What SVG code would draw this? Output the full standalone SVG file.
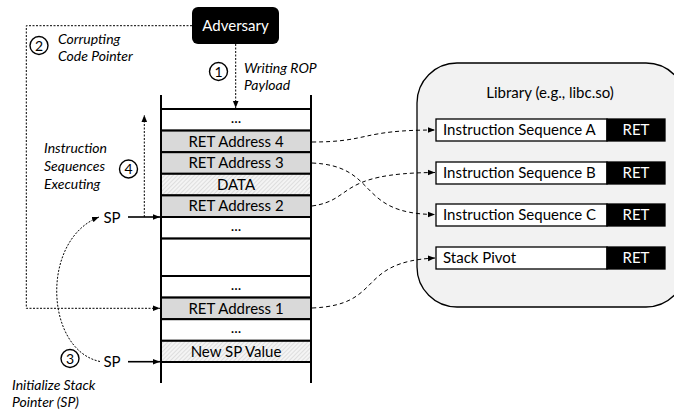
<svg xmlns="http://www.w3.org/2000/svg" width="674" height="411" viewBox="0 0 674 411">
  <style>
    text { font-family: Lato, "Open Sans", "Liberation Sans", sans-serif; fill: #000; }
    .lbl { font-size: 15px; text-anchor: middle; }
    .seq { font-size: 15px; }
    .it { font-size: 14px; font-style: italic; }
    .num { font-size: 14px; text-anchor: middle; }
    .wt { fill: #fff; }
    .cell { stroke: #000; stroke-width: 2; }
    .gray { fill: #d9d9d9; }
    .white { fill: #fff; }
    .hatch { fill: url(#hatch); }
    .box { stroke: #000; stroke-width: 1.3; }
    .dot { fill: none; stroke: #000; stroke-width: 1; stroke-dasharray: 2 1.5; }
    .dash { fill: none; stroke: #000; stroke-width: 1; stroke-dasharray: 4 3; }
    .solid { fill: none; stroke: #000; stroke-width: 1.6; }
    .circ { fill: #fff; stroke: #000; stroke-width: 1.4; }
  </style>
  <defs>
    <pattern id="hatch" width="3" height="3" patternUnits="userSpaceOnUse" patternTransform="rotate(45)">
      <rect width="3" height="3" fill="#f4f4f4"/>
      <line x1="0" y1="0" x2="0" y2="3" stroke="#c8c8c8" stroke-width="1"/>
    </pattern>
    <marker id="arr" viewBox="0 0 10 10" refX="10" refY="5" markerWidth="7" markerHeight="7" markerUnits="userSpaceOnUse" orient="auto">
      <path d="M0,1 L10,5 L0,9 z" fill="#000"/>
    </marker>
  </defs>

  <!-- Adversary -->
  <g id="adversary">
    <rect x="192" y="7" width="87" height="37" rx="6" fill="#000"/>
    <text class="lbl wt" x="235.5" y="31">Adversary</text>
  </g>

  <!-- Stack -->
  <g id="stack">
    <rect class="cell white" x="161" y="109" width="150" height="21.6"/>
    <text class="lbl" x="236" y="123">...</text>
    <rect class="cell gray" x="161" y="130.6" width="150" height="21.6"/>
    <text class="lbl" x="236" y="146.5">RET Address 4</text>
    <rect class="cell gray" x="161" y="152.2" width="150" height="21.6"/>
    <text class="lbl" x="236" y="168">RET Address 3</text>
    <rect class="cell hatch" x="161" y="173.8" width="150" height="21.6"/>
    <text class="lbl" x="236" y="189.5">DATA</text>
    <rect class="cell gray" x="161" y="195.4" width="150" height="21.6"/>
    <text class="lbl" x="236" y="211">RET Address 2</text>
    <rect class="cell white" x="161" y="217" width="150" height="21.6"/>
    <text class="lbl" x="236" y="231">...</text>
    <rect class="cell white" x="161" y="238.6" width="150" height="37.4"/>
    <rect class="cell white" x="161" y="276" width="150" height="21.6"/>
    <text class="lbl" x="236" y="290">...</text>
    <rect class="cell gray" x="161" y="297.6" width="150" height="21.6"/>
    <text class="lbl" x="236" y="313.5">RET Address 1</text>
    <rect class="cell white" x="161" y="319.2" width="150" height="21.6"/>
    <text class="lbl" x="236" y="333">...</text>
    <rect class="cell hatch" x="161" y="340.8" width="150" height="21.2"/>
    <text class="lbl" x="236" y="356.5">New SP Value</text>
    <line class="cell" x1="161" y1="95" x2="161" y2="383"/>
    <line class="cell" x1="311" y1="95" x2="311" y2="383"/>
  </g>

  <!-- Library -->
  <g id="library">
    <rect x="417" y="63" width="269" height="244" rx="40" fill="#f2f2f2" stroke="#000" stroke-width="1.3"/>
    <text class="lbl" x="550" y="98">Library (e.g., libc.so)</text>
  </g>
  <g id="seq-a">
    <rect class="box" x="436" y="119" width="171" height="22" fill="#fff"/>
    <rect class="box" x="607" y="119" width="58" height="22" fill="#000"/>
    <text class="seq" x="443" y="135">Instruction Sequence A</text>
    <text class="lbl wt" x="636" y="135">RET</text>
  </g>
  <g id="seq-b">
    <rect class="box" x="436" y="162" width="171" height="22" fill="#fff"/>
    <rect class="box" x="607" y="162" width="58" height="22" fill="#000"/>
    <text class="seq" x="443" y="178">Instruction Sequence B</text>
    <text class="lbl wt" x="636" y="178">RET</text>
  </g>
  <g id="seq-c">
    <rect class="box" x="436" y="204" width="171" height="22" fill="#fff"/>
    <rect class="box" x="607" y="204" width="58" height="22" fill="#000"/>
    <text class="seq" x="443" y="220">Instruction Sequence C</text>
    <text class="lbl wt" x="636" y="220">RET</text>
  </g>
  <g id="stack-pivot">
    <rect class="box" x="436" y="247" width="171" height="22" fill="#fff"/>
    <rect class="box" x="607" y="247" width="58" height="22" fill="#000"/>
    <text class="seq" x="443" y="263">Stack Pivot</text>
    <text class="lbl wt" x="636" y="263">RET</text>
  </g>

  <!-- Step labels -->
  <g id="step1">
    <circle class="circ" cx="218.5" cy="71.5" r="9"/>
    <text class="num" x="218.5" y="76.5">1</text>
    <text class="it" x="244" y="73">Writing ROP</text>
    <text class="it" x="244" y="89.5">Payload</text>
  </g>
  <g id="step2">
    <circle class="circ" cx="39" cy="45.5" r="9"/>
    <text class="num" x="39" y="50.5">2</text>
    <text class="it" x="58" y="44">Corrupting</text>
    <text class="it" x="58" y="60.5">Code Pointer</text>
  </g>
  <g id="step3">
    <circle class="circ" cx="70" cy="358.5" r="9"/>
    <text class="num" x="70" y="363.5">3</text>
    <text class="it" x="12" y="390">Initialize Stack</text>
    <text class="it" x="12" y="406.5">Pointer (SP)</text>
  </g>
  <g id="step4">
    <circle class="circ" cx="128.5" cy="169" r="9"/>
    <text class="num" x="128.5" y="174">4</text>
    <text class="it" x="44" y="153">Instruction</text>
    <text class="it" x="44" y="171">Sequences</text>
    <text class="it" x="44" y="188.5">Executing</text>
  </g>
  <g id="sp-labels">
    <text class="lbl" x="112" y="222.5">SP</text>
    <text class="lbl" x="112" y="367">SP</text>
  </g>

  <!-- Connectors -->
  <g id="connectors">
    <path class="dot" d="M235.7,44 L235.7,108" marker-end="url(#arr)"/>
    <path class="dot" d="M192,25.7 L26.3,25.7 L26.3,308.3 L160,308.3" marker-end="url(#arr)"/>
    <path class="dot" d="M144.3,217 L144.3,115" marker-end="url(#arr)"/>
    <path class="dot" d="M100,361.5 C45,350 40,240 99,217" marker-end="url(#arr)"/>
    <path class="solid" d="M128,217 L160,217" marker-end="url(#arr)"/>
    <path class="solid" d="M128,361.7 L160,361.7" marker-end="url(#arr)"/>
    <path class="dash" d="M312,142 C370,142 360,130 435,130" marker-end="url(#arr)"/>
    <path class="dash" d="M312,163 C380,166 355,214 435,214.5" marker-end="url(#arr)"/>
    <path class="dash" d="M312,206 C355,200 335,173 435,172.5" marker-end="url(#arr)"/>
    <path class="dash" d="M312,308 C385,305 355,262 435,258" marker-end="url(#arr)"/>
  </g>
</svg>
